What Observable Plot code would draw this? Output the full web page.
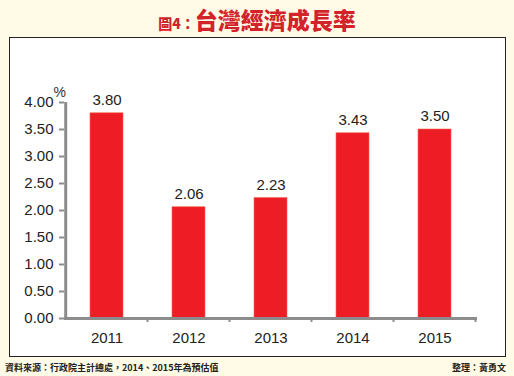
<!DOCTYPE html>
<html><head><meta charset="utf-8">
<script src="https://cdn.jsdelivr.net/npm/d3@7"></script>
<script src="https://cdn.jsdelivr.net/npm/@observablehq/plot@0.6"></script>
<style>
html,body{margin:0;padding:0;}
body{width:514px;height:376px;background:#fffbe7;position:relative;overflow:hidden;font-family:"Liberation Sans",Arial,sans-serif;}
#title{position:absolute;top:4px;left:0;width:514px;text-align:center;color:#d2232a;font-family:"Noto Sans CJK TC",sans-serif;font-weight:900;line-height:30px;}
#title .a{font-size:14px;}
#title .b{font-size:23px;}
#box{position:absolute;left:9px;top:37px;width:495px;height:318px;background:#fff;border:1.5px solid #222;}
#foot{position:absolute;top:361px;left:5px;width:501px;font-family:"Noto Sans CJK TC",sans-serif;font-size:9px;font-weight:700;color:#222;}
#foot .r{position:absolute;right:0;top:0;}
</style></head>
<body>
<div id="title"><span class="a">圖4：</span><span class="b">台灣經濟成長率</span></div>
<div id="box"></div>
<div id="foot"><span>資料來源：行政院主計總處，2014、2015年為預估值</span><span class="r">整理：黃勇文</span></div>
<script>
const years = ["2011","2012","2013","2014","2015"];
const growth = [3.80, 2.06, 2.23, 3.43, 3.50];
const yTicks = [0,0.5,1,1.5,2,2.5,3,3.5,4];
const unit = "%";

const data = years.map((y,i)=>({year:y, value:growth[i]}));
const axisColor = "#8c8c8c";

const plot = Plot.plot({
  width: 495, height: 318,
  marginLeft: 54, marginRight: 28, marginTop: 64, marginBottom: 38,
  style: {background:"transparent", fontFamily:"Liberation Sans, Arial, sans-serif", fontSize:"15px", color:"#333"},
  x: {domain: years, paddingInner: 0.6, paddingOuter: 0.3, label: null},
  y: {domain: [0,4], label: null},
  marks: [
    Plot.barY(data, {x:"year", y:"value", fill:"#ee1d25", stroke:"#f26a4f", strokeWidth:0.6}),
    Plot.text(data, {x:"year", y:"value", text: d=>d.value.toFixed(2), dy:-13, fontSize:15, fill:"#222"}),
    Plot.axisY({ticks: yTicks, tickFormat: d=>d.toFixed(2), tickSize:5, tickPadding:6, stroke:axisColor, strokeWidth:2, fill:"#222", fontSize:15, label:null}),
    Plot.ruleX([0], {x: ()=>years[0], dx: -41.3, y1:0, y2:4, stroke:axisColor, strokeWidth:3}),
    Plot.ruleY([0], {stroke:axisColor, strokeWidth:3}),
    Plot.axisX({tickSize:0, tickPadding:14, fill:"#222", fontSize:15, label:null}),
    Plot.text([unit], {frameAnchor:"top-left", dx:-11, dy:-15, text:d=>d, fontSize:14, fill:"#333"})
  ]
});
document.getElementById("box").appendChild(plot);
plot.style.position="absolute"; plot.style.left="0"; plot.style.top="0";

// boundary ticks on the x axis, from Plot's band scale
const xs = plot.scale("x"), ys = plot.scale("y");
const step = xs.step, bw = xs.bandwidth;
const y0 = ys.apply(0);
const g = d3.select(plot).append("g");
years.forEach((yr,i)=>{
  const left = xs.apply(yr) - (step-bw)/2;
  g.append("line").attr("x1",left+step).attr("x2",left+step).attr("y1",y0).attr("y2",y0+4)
   .attr("stroke",axisColor).attr("stroke-width",2);
});
</script>
</body></html>
